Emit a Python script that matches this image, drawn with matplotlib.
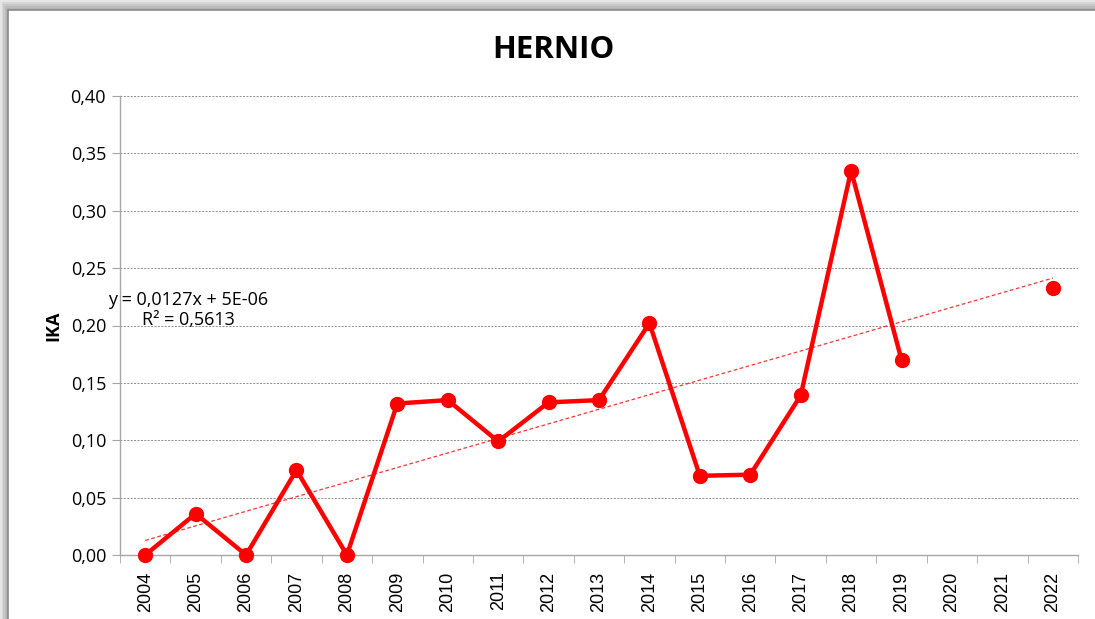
import matplotlib
matplotlib.use("Agg")
import matplotlib.pyplot as plt
import matplotlib.ticker as mticker
import numpy as np
from matplotlib.patches import Rectangle

YEARS = ["2004", "2005", "2006", "2007", "2008", "2009", "2010", "2011", "2012",
         "2013", "2014", "2015", "2016", "2017", "2018", "2019", "2020", "2021", "2022"]
IKA = [0.000, 0.036, 0.000, 0.074, 0.000, 0.132, 0.135, 0.099, 0.133,
       0.135, 0.202, 0.069, 0.070, 0.139, 0.335, 0.170, np.nan, np.nan, 0.233]
TREND_SLOPE = 0.0127
TREND_INTERCEPT = 5e-06
TREND_LABEL = "y = 0,0127x + 5E-06\nR² = 0,5613"

plt.rcParams["font.family"] = ["Open Sans", "DejaVu Sans"]

fig = plt.figure(figsize=(10.95, 6.19), dpi=100)
fig.patch.set_facecolor("white")

# frame with soft shadow (Excel chart border)
W, H = 1095, 619
for i, c in enumerate(["#e6e6e6", "#d6d6d6", "#c8c8c8", "#bcbcbc", "#b2b2b2"]):
    fig.patches.append(Rectangle((i * 1.6 / W, 0), 1, 1 - i * 2.0 / H,
                                 transform=fig.transFigure, facecolor=c,
                                 edgecolor="none", zorder=-10))
fig.patches.append(Rectangle((8 / W, -0.01), 1, 1 - 10 / H + 0.01,
                             transform=fig.transFigure, facecolor="white",
                             edgecolor="#8a8a8a", linewidth=1.2, zorder=-9))

ax = fig.add_axes([120 / W, 1 - 555 / H, (1078 - 120) / W, (555 - 96) / H])
ax.set_facecolor("none")

x = np.arange(len(YEARS))
ax.plot(x, IKA, color="#ff0000", linewidth=3.2, marker="o", markersize=10,
        markeredgecolor="#ff0000", zorder=3, clip_on=False)

# linear trend (Excel uses category index 1..n)
xt = np.array([1, len(YEARS)])
ax.plot(xt - 1, TREND_SLOPE * xt + TREND_INTERCEPT, color="#ff0000",
        linewidth=0.9, linestyle=(0, (3, 2)), alpha=0.8, zorder=2)

ax.set_xlim(-0.5, len(YEARS) - 0.5)
ax.set_ylim(0, 0.40)
ax.yaxis.set_major_locator(mticker.MultipleLocator(0.05))
ax.yaxis.set_major_formatter(mticker.FuncFormatter(lambda v, p: f"{v:.2f}".replace(".", ",")))
ax.grid(axis="y", color="#8c8c8c", linestyle=(0, (2, 1.5)), linewidth=0.7)
ax.set_axisbelow(True)

ax.set_xticks(x)
ax.set_xticklabels(YEARS, rotation=90, fontsize=13, family=["Liberation Sans"])
ax.set_xticks(np.arange(len(YEARS) + 1) - 0.5, minor=True)
ax.tick_params(axis="x", which="major", length=0, pad=12)
ax.tick_params(axis="x", which="minor", length=6, color="#a6a6a6", direction="out")
ax.tick_params(axis="y", length=6, color="#a6a6a6", labelsize=13, pad=4)

for s in ["top", "right"]:
    ax.spines[s].set_visible(False)
for s in ["left", "bottom"]:
    ax.spines[s].set_color("#a6a6a6")
    ax.spines[s].set_linewidth(1.0)

ax.set_ylabel("IKA", fontsize=13, fontweight="bold", labelpad=6)
fig.text(553 / W, 1 - 50 / H, "HERNIO", ha="center", va="center",
         fontsize=22.5, fontweight="bold")
fig.text(188 / W, 1 - 310 / H, TREND_LABEL, ha="center", va="center",
         fontsize=13, linespacing=1.15)

fig.savefig("out.png", dpi=100)
